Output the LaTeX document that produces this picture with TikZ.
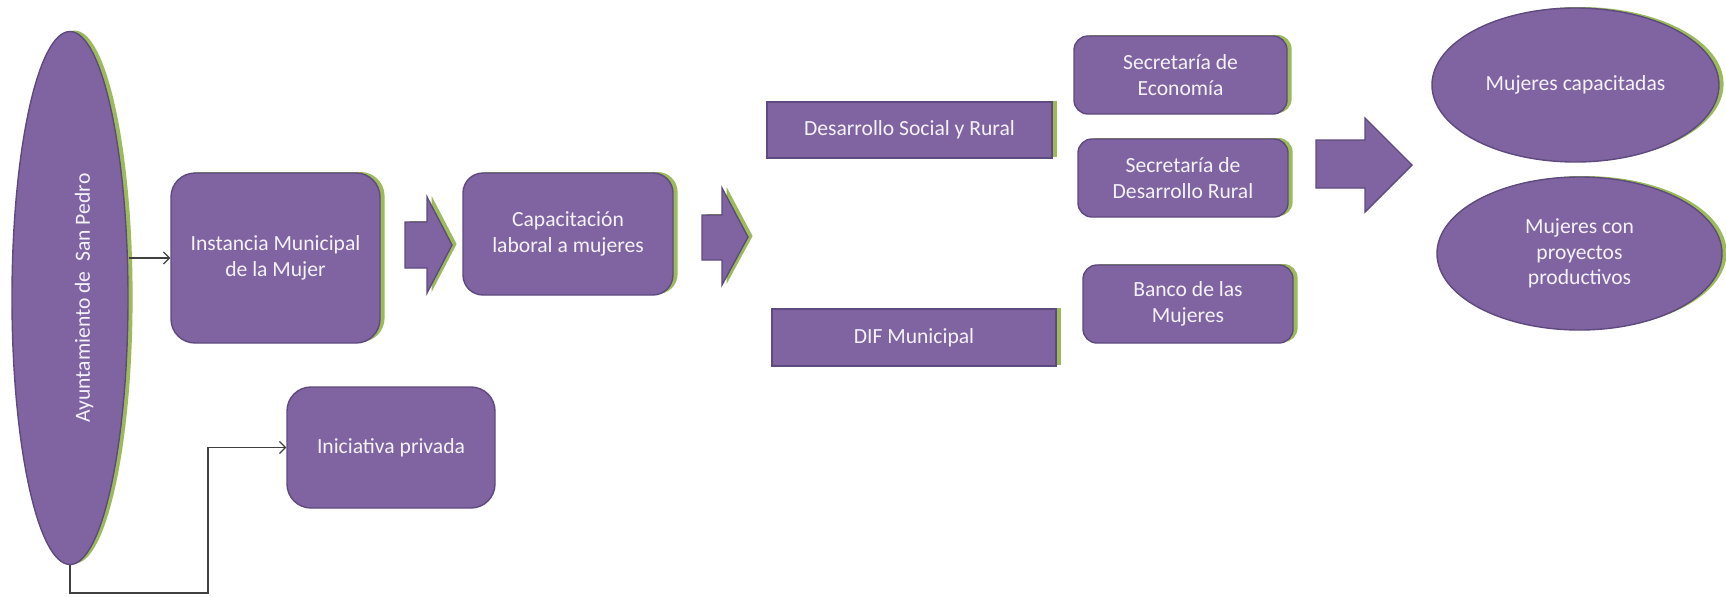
\documentclass[tikz,border=0pt]{standalone}
\usepackage{fontspec}
\setmainfont{Carlito}
\usetikzlibrary{shapes.geometric,shadows,arrows.meta}
\definecolor{boxfill}{HTML}{8064A2}
\definecolor{boxline}{HTML}{5E4A7E}
\definecolor{shgreen}{HTML}{9BBB59}
\definecolor{txtc}{HTML}{F4F1F9}
\definecolor{linec}{HTML}{404040}
\tikzset{
	base/.style={fill=boxfill, draw=boxline, line width=0.7pt, text=txtc, align=center, inner sep=2pt, font=\fontsize{10.8}{12.8}\selectfont},
	greenshadow/.style={drop shadow={fill=shgreen, opacity=1, shadow xshift=2.3pt, shadow yshift=0.5pt}},
	roundbox/.style={base, rounded corners=12pt},
	smallround/.style={base, rounded corners=7pt},
	flatbox/.style={base},
	oval/.style={base, ellipse},
	bigarrow/.style={fill=boxfill, draw=boxline, line width=0.7pt},
	conn/.style={draw=linec, line width=0.6pt, -{Straight Barb[length=3pt,width=6pt]}}
}
\begin{document}
\begin{tikzpicture}[x=0.5pt, y=-0.5pt]
		\useasboundingbox (0,0) rectangle (1726,596);
		% Nodes
		\node[oval, greenshadow, minimum width=58pt, minimum height=266.5pt] (ayto) at (70,298) {};
		\node[rotate=90, text=txtc, inner sep=0pt, font=\fontsize{10.8}{12.8}\selectfont] (aytotxt) at ([xshift=7pt]ayto.center) {Ayuntamiento de\ \ San Pedro};
		\node[roundbox, greenshadow, minimum width=104.5pt, minimum height=85pt] (inst) at (275.5,258) {Instancia Municipal\\de la Mujer};
		\node[roundbox, greenshadow, rounded corners=10pt, minimum width=105pt, minimum height=61pt] (capac) at (568,234) {Capacitación\\laboral a mujeres};
		\node[flatbox, greenshadow, minimum width=142.5pt, minimum height=28pt] (dsr) at (909.5,130) {Desarrollo Social y Rural};
		\node[flatbox, greenshadow, minimum width=142pt, minimum height=28.5pt] (dif) at (914,337.5) {DIF Municipal};
		\node[smallround, greenshadow, minimum width=106.5pt, minimum height=39pt] (seco) at (1180.5,75) {Secretaría de\\Economía};
		\node[smallround, greenshadow, minimum width=105pt, minimum height=39pt] (secdr) at (1183,178) {Secretaría de\\Desarrollo Rural};
		\node[smallround, greenshadow, minimum width=105pt, minimum height=39pt] (banco) at (1188,304) {Banco de las\\Mujeres};
		\node[oval, greenshadow, minimum width=143.5pt, minimum height=77pt] (mcap) at (1575.5,85) {Mujeres capacitadas};
		\node[oval, greenshadow, minimum width=142.5pt, minimum height=76.5pt] (mpro) at (1579.5,253.5) {Mujeres con\\proyectos\\productivos};
		\node[roundbox, minimum width=104pt, minimum height=60.5pt] (inic) at (391,447.5) {Iniciativa privada};
		
		% Block arrows
		\draw[bigarrow, greenshadow] (405,222) -- (427,222) -- (427,197) -- (452,245) -- (427,293) -- (427,268) -- (405,268) -- cycle;
		\draw[bigarrow, greenshadow] (702,215) -- (722,215) -- (722,188) -- (748,237) -- (722,285) -- (722,260) -- (702,260) -- cycle;
		\draw[bigarrow] (1316,140) -- (1365,140) -- (1365,118) -- (1412,165) -- (1365,212) -- (1365,188) -- (1316,188) -- cycle;
		
		% Edges
		\coordinate (bend) at (208,593);
		\draw[conn] (ayto.east |- inst.west) -- (inst.west);
		\draw[conn] (ayto.south) |- (bend) |- (inic.west);
	\end{tikzpicture}
\end{document}
